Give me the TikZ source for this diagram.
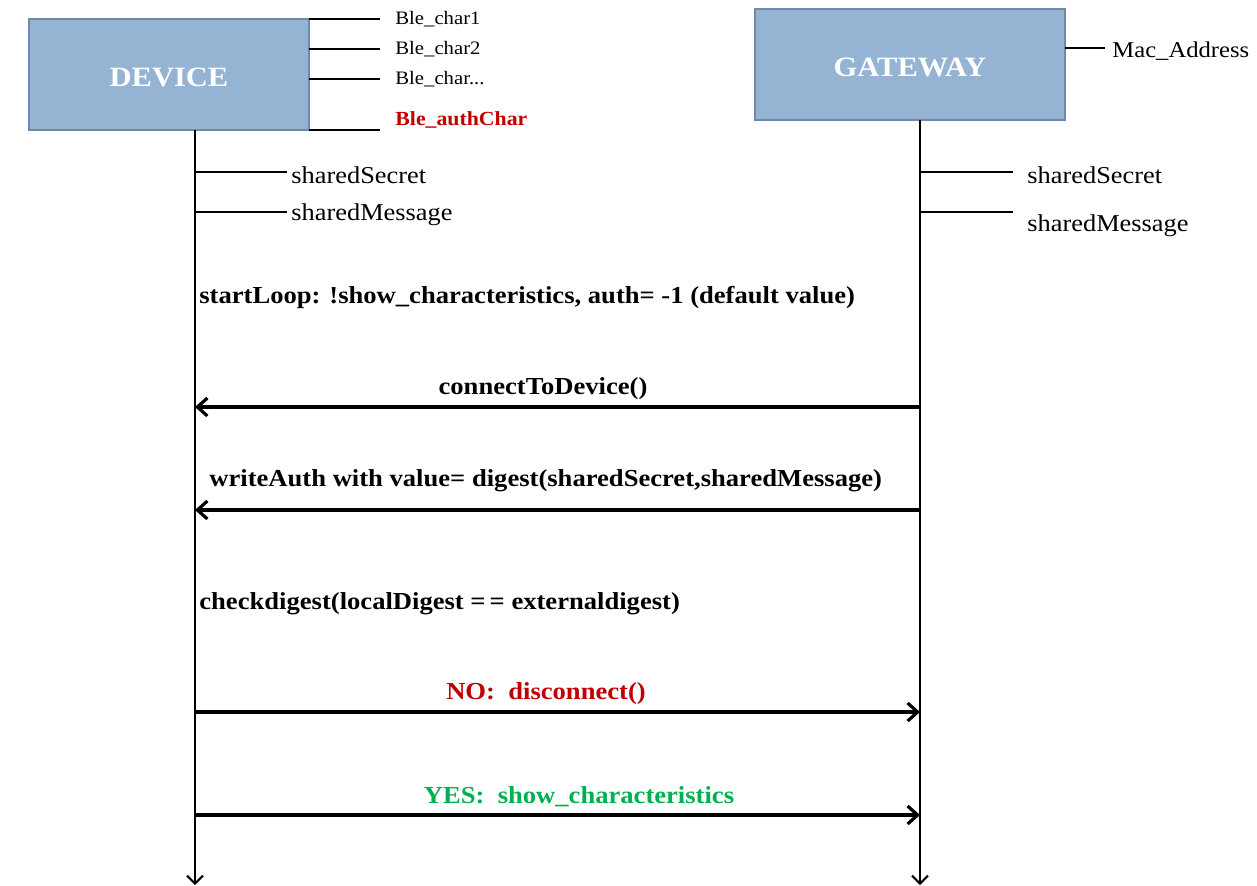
\documentclass[tikz,border=0pt]{standalone}
\usepackage{fontspec}
\setmainfont[FakeStretch=1.09]{Liberation Serif}
\usetikzlibrary{arrows.meta}
\definecolor{boxfill}{HTML}{95B3D3}
\definecolor{boxline}{HTML}{6F8AA8}
\definecolor{noRed}{HTML}{C00000}
\definecolor{yesGreen}{HTML}{00B050}
\tikzset{
  actor/.style={draw=boxline, line width=1pt, fill=boxfill, inner sep=0pt},
  actortext/.style={text=white, inner sep=0pt, font=\fontsize{14}{16}\selectfont\bfseries},
  attr/.style={anchor=west, inner sep=0pt, font=\fontsize{9.5}{11}\selectfont},
  field/.style={anchor=west, inner sep=0pt, font=\fontsize{12.1}{14}\selectfont},
  note/.style={anchor=west, inner sep=0pt, font=\fontsize{12.2}{14}\selectfont\bfseries},
  msgtext/.style={inner sep=0pt, font=\fontsize{12.2}{14}\selectfont\bfseries},
  tick/.style={line width=1pt},
  lifeline/.style={line width=1pt, -{Straight Barb[length=4pt,width=8pt]}},
  msg/.style={line width=1.6pt, -{Straight Barb[length=5pt,width=9pt]}},
}
\begin{document}
\begin{tikzpicture}[x=0.5pt, y=-0.5pt]
\useasboundingbox (0,0) rectangle (1257,885);

% participants
\node[actor, minimum width=140pt, minimum height=55.5pt] (dev) at (169,74.5) {};
\node[actortext] (devname) at (169,77) {DEVICE};
\node[actor, minimum width=155pt, minimum height=55.5pt] (gw) at (910,64.5) {};
\node[actortext] (gwname) at (910,67) {GATEWAY};

% device characteristics
\node[attr] (c1) at (395,19) {Ble\_char1};
\node[attr] (c2) at (395,49) {Ble\_char2};
\node[attr] (c3) at (395,79) {Ble\_char...};
\node[attr, text=noRed, font=\fontsize{10}{11}\selectfont\bfseries] (c4) at (395,120) {Ble\_authChar};
\coordinate (c1e) at (380,19);
\coordinate (c2e) at (380,49);
\coordinate (c3e) at (380,79);
\coordinate (c4e) at (380,130);
\coordinate (devedge) at (309,0);
\draw[tick] (devedge |- c1e) -- (c1e);
\draw[tick] (devedge |- c2e) -- (c2e);
\draw[tick] (devedge |- c3e) -- (c3e);
\draw[tick] (devedge |- c4e) -- (c4e);

% gateway attribute
\node[field, font=\fontsize{11.3}{13}\selectfont] (mac) at (1112,51) {Mac\_Address};
\coordinate (gwedge) at (1065,0);
\coordinate (macl) at (1105,48);
\draw[tick] (gwedge |- macl) -- (macl);

% lifelines
\coordinate (devtop) at (195,130);
\coordinate (devend) at (195,885);
\coordinate (gwtop) at (920,120);
\coordinate (gwend) at (920,885);
\draw[lifeline] (devtop) -- (devend);
\draw[lifeline] (gwtop) -- (gwend);

% shared values on each side
\node[field] (dss) at (291,175) {sharedSecret};
\node[field] (dsm) at (291,215) {sharedMessage};
\node[field] (gss) at (1027,175) {sharedSecret};
\node[field] (gsm) at (1027,226) {sharedMessage};
\coordinate (dssl) at (287,172);
\coordinate (dsml) at (287,212);
\coordinate (gssl) at (1013,172);
\coordinate (gsml) at (1013,212);
\draw[tick] (devtop |- dssl) -- (dssl);
\draw[tick] (devtop |- dsml) -- (dsml);
\draw[tick] (gwtop |- gssl) -- (gssl);
\draw[tick] (gwtop |- gsml) -- (gsml);

% loop state
\node[note] (loop) at (199,297) {startLoop: !show\_characteristics, auth= -1 (default value)};

% messages
\coordinate (m1g) at (920,407);  \coordinate (m1d) at (195,407);
\draw[msg] (m1g) -- (m1d);
\node[msgtext] (m1) at (543,389) {connectToDevice()};

\coordinate (m2g) at (920,510);  \coordinate (m2d) at (195,510);
\draw[msg] (m2g) -- (m2d);
\node[note] (m2) at (209,481) {writeAuth with value= digest(sharedSecret,sharedMessage)};

\node[note] (chk) at (199,604) {checkdigest(localDigest =\,= externaldigest)};

\coordinate (m3d) at (195,712);  \coordinate (m3g) at (920,712);
\draw[msg] (m3d) -- (m3g);
\node[msgtext, text=noRed] (m3) at (546,694) {NO:\ \ disconnect()};

\coordinate (m4d) at (195,815);  \coordinate (m4g) at (920,815);
\draw[msg] (m4d) -- (m4g);
\node[msgtext, text=yesGreen] (m4) at (579,797) {YES:\ \ show\_characteristics};
\end{tikzpicture}
\end{document}
